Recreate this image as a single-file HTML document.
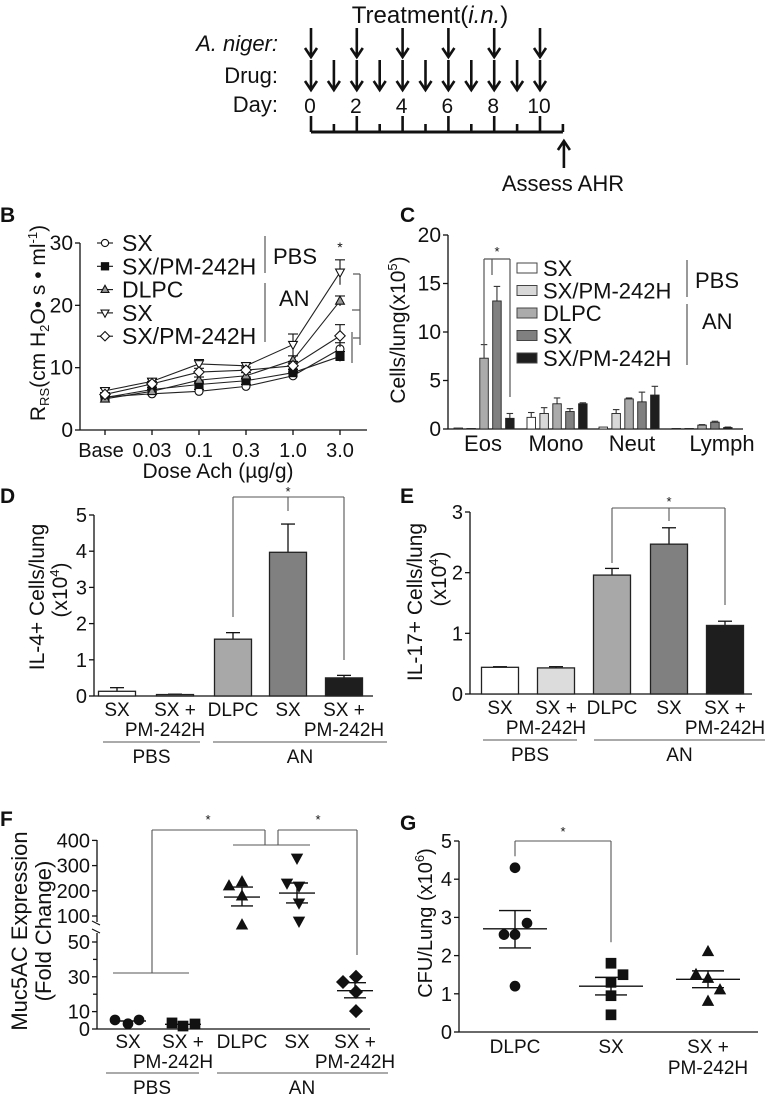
<!DOCTYPE html>
<html><head><meta charset="utf-8"><style>
html,body{margin:0;padding:0;background:#fff}
svg{display:block;font-family:"Liberation Sans",Arial,sans-serif}
text{fill:#111}
</style></head><body>
<svg id="fig" width="774" height="1098" viewBox="0 0 774 1098" xmlns="http://www.w3.org/2000/svg">
<g id="top">
<text x="430" y="23" font-size="24" text-anchor="middle">Treatment(<tspan font-style="italic">i.n.</tspan>)</text>
<text x="278" y="51" font-size="22" text-anchor="end" font-style="italic">A. niger:</text>
<text x="278" y="83" font-size="22" text-anchor="end">Drug:</text>
<text x="278" y="112" font-size="22" text-anchor="end">Day:</text>
<text x="563" y="191" font-size="22" text-anchor="middle">Assess AHR</text>
</g>
<g id="pB">
<text x="0" y="222" font-size="21" font-weight="bold">B</text>
<text transform="translate(45,323) rotate(-90)" font-size="21" text-anchor="middle">R<tspan font-size="13" dy="4">RS</tspan><tspan dy="-4">(cm H</tspan><tspan font-size="13" dy="4">2</tspan><tspan dy="-4">O• s • ml</tspan><tspan font-size="13" dy="-8">-1</tspan><tspan dy="8">)</tspan></text>
<text x="218" y="478" font-size="21" text-anchor="middle">Dose Ach (µg/g)</text>
<text x="273" y="264" font-size="22">PBS</text>
<text x="279" y="306" font-size="22">AN</text>
<text x="340" y="252" font-size="14" text-anchor="middle">*</text>
</g>
<g id="pC">
<text x="400" y="222" font-size="21" font-weight="bold">C</text>
<text transform="translate(405,330) rotate(-90)" font-size="21" text-anchor="middle">Cells/lung(x10<tspan font-size="13" dy="-8">5</tspan><tspan dy="8">)</tspan></text>
<text x="695" y="288" font-size="22">PBS</text>
<text x="702" y="329" font-size="22">AN</text>
<text x="497" y="256" font-size="13" text-anchor="middle">*</text>
</g>
<g id="pD">
<text x="0" y="503" font-size="21" font-weight="bold">D</text>
<text transform="translate(44,597) rotate(-90)" font-size="21" text-anchor="middle">IL-4+ Cells/lung</text>
<text transform="translate(67,590) rotate(-90)" font-size="21" text-anchor="middle">(x10<tspan font-size="13" dy="-8">4</tspan><tspan dy="8">)</tspan></text>
<text x="288" y="496" font-size="13" text-anchor="middle">*</text>
</g>
<g id="pE">
<text x="400" y="503" font-size="21" font-weight="bold">E</text>
<text transform="translate(422,602) rotate(-90)" font-size="21" text-anchor="middle">IL-17+ Cells/lung</text>
<text transform="translate(446,579) rotate(-90)" font-size="21" text-anchor="middle">(x10<tspan font-size="13" dy="-8">4</tspan><tspan dy="8">)</tspan></text>
<text x="669" y="506" font-size="13" text-anchor="middle">*</text>
</g>
<g id="pF">
<text x="0" y="826" font-size="21" font-weight="bold">F</text>
<text transform="translate(27,931) rotate(-90)" font-size="22" text-anchor="middle">Muc5AC Expression</text>
<text transform="translate(51,931) rotate(-90)" font-size="22" text-anchor="middle">(Fold Change)</text>
<text x="208" y="824" font-size="13" text-anchor="middle">*</text>
<text x="318" y="824" font-size="13" text-anchor="middle">*</text>
</g>
<g id="pG">
<text x="400" y="830" font-size="21" font-weight="bold">G</text>
<text transform="translate(432,923) rotate(-90)" font-size="20" text-anchor="middle">CFU/Lung (x10<tspan font-size="13" dy="-8">6</tspan><tspan dy="8">)</tspan></text>
<text x="563" y="836" font-size="13" text-anchor="middle">*</text>
</g>
</svg>
<script>
// ---- data ----
const dayLabels=["0","2","4","6","8","10"];
const nigerDays=[0,2,4,6,8,10];
const drugDays=[0,1,2,3,4,5,6,7,8,9,10];
const bCats=["Base","0.03","0.1","0.3","1.0","3.0"];
const bTicks=[0,10,20,30];
const bSX=[5.3,5.8,6.2,7.0,8.7,13.0];
const bSXPM=[5.2,6.5,7.3,7.9,9.2,11.8];
const bDLPC=[5.0,6.2,8.0,8.7,11.2,20.7];
const bSXAN=[6.3,7.8,10.6,10.3,13.7,25.3];
const bSXPMAN=[5.7,7.4,9.3,9.6,10.3,15.1];
const bErrSX=[0.3,0.3,0.3,0.3,0.6,1.0];
const bErrSXPM=[0.3,0.3,0.4,0.4,0.5,0.8];
const bErrDLPC=[0.3,0.3,0.5,0.5,0.7,0.8];
const bErrSXAN=[0.4,0.4,0.7,0.5,1.7,2.0];
const bErrSXPMAN=[0.3,0.4,0.6,0.5,0.7,1.8];
const bLegend=["SX","SX/PM-242H","DLPC","SX","SX/PM-242H"];
const cCats=["Eos","Mono","Neut","Lymph"];
const cTicks=[0,5,10,15,20];
const cSX=[0.1,1.2,0.2,0.05];
const cSXPM=[0.05,1.6,1.6,0.05];
const cDLPC=[7.3,2.6,3.1,0.4];
const cSXAN=[13.2,1.8,2.8,0.7];
const cSXPMAN=[1.1,2.6,3.5,0.15];
const cErrSX=[0,0.5,0,0];
const cErrSXPM=[0,0.6,0.4,0];
const cErrDLPC=[1.4,0.6,0.1,0.05];
const cErrSXAN=[1.5,0.3,1.0,0.1];
const cErrSXPMAN=[0.5,0.1,0.9,0.05];
const grpCats1=["SX","SX +","DLPC","SX","SX +"];
const grpCats2=["","PM-242H","","","PM-242H"];
const dTicks=[0,1,2,3,4,5];
const dVals=[0.13,0.04,1.57,3.97,0.5];
const dErr=[0.1,0.01,0.18,0.78,0.07];
const eTicks=[0,1,2,3];
const eVals=[0.44,0.43,1.96,2.47,1.13];
const eErr=[0.01,0.02,0.11,0.27,0.07];
const fTicks=[0,10,30,50,100,200,300,400];
const fPts0=[5.2,3.0,5.2];
const fPts1=[3.5,1.7,2.9];
const fPts2=[219,235,179,64];
const fPts3=[330,231,219,152,80];
const fPts4=[27,30,21.3,10.3];
const fMean=[4.6,2.7,175,191,22];
const fSemHi=[4.6,2.7,215,231,26.6];
const fSemLo=[4.6,2.7,140,152,17.9];
const gCats1=["DLPC","SX","SX +"];
const gTicks=[0,1,2,3,4,5];
const gPts0=[4.3,2.55,2.55,2.85,1.2];
const gPts1=[1.8,1.5,1.3,0.95,0.45];
const gPts2=[2.1,1.5,1.4,1.1,0.8];
const gMean=[2.7,1.2,1.38];
const gSemHi=[3.18,1.43,1.6];
const gSemLo=[2.2,0.97,1.16];

// ---- helpers ----
const NS="http://www.w3.org/2000/svg";
function mk(tag,attrs,parent){const e=document.createElementNS(NS,tag);for(const k in attrs)e.setAttribute(k,attrs[k]);(parent||document.getElementById('fig')).appendChild(e);return e;}
function ln(x1,y1,x2,y2,p,w,c){return mk('line',{x1:x1,y1:y1,x2:x2,y2:y2,stroke:c||'#111','stroke-width':w||1.3},p);}
function tx(x,y,s,fs,anchor,p){const t=mk('text',{x:x,y:y,'font-size':fs,'text-anchor':anchor||'middle'},p);t.textContent=s;return t;}
function arrow(x,y1,y2,p,dir){ln(x,y1,x,y2,p,2.6);const tip=y2;const d=dir||1;mk('path',{d:`M${x-6},${tip-9*d} L${x},${tip} L${x+6},${tip-9*d}`,fill:'none',stroke:'#111','stroke-width':2.6},p);}
function marker(shape,x,y,r,fill,p){
 let e;
 if(shape==='circle')e=mk('circle',{cx:x,cy:y,r:r,fill:fill,stroke:'#111','stroke-width':1.1},p);
 else if(shape==='square')e=mk('rect',{x:x-r,y:y-r,width:2*r,height:2*r,fill:fill,stroke:'#111','stroke-width':1.1},p);
 else if(shape==='up')e=mk('path',{d:`M${x},${y-r*1.2} L${x+r*1.1},${y+r*0.8} L${x-r*1.1},${y+r*0.8}Z`,fill:fill,stroke:'#111','stroke-width':1.1},p);
 else if(shape==='down')e=mk('path',{d:`M${x},${y+r*1.2} L${x+r*1.1},${y-r*0.8} L${x-r*1.1},${y-r*0.8}Z`,fill:fill,stroke:'#111','stroke-width':1.1},p);
 else e=mk('path',{d:`M${x},${y-r*1.3} L${x+r*1.3},${y} L${x},${y+r*1.3} L${x-r*1.3},${y}Z`,fill:fill,stroke:'#111','stroke-width':1.1},p);
 return e;
}

// ---- timeline ----
(function(){
 const p=document.getElementById('top');
 const dx=d=>311+d*22.9;
 nigerDays.forEach(d=>{const g=mk('g',{},p);
  
  
  arrow(dx(d),28,57,g);});
 drugDays.forEach(d=>{const g=mk('g',{},p);
  
  
  arrow(dx(d),60,90,g);});
 dayLabels.forEach((s,i)=>{const t=tx(dx(i*2)-1,113,s,21,'middle',p);
  
  });
 const axis=ln(dx(0),132,dx(11),132,p,3);
 
 
 for(let d=0;d<=11;d++){ln(dx(d),d%2?124:116,dx(d),132,p,2.6);}
 const g=mk('g',{},p);
 
 
 ln(dx(11)+1,168,dx(11)+1,142,g,2.6);
 mk('path',{d:`M${dx(11)-5},${150} L${dx(11)+1},${141} L${dx(11)+7},${150}`,fill:'none',stroke:'#111','stroke-width':2.6},g);
})();

// ---- panel B ----
(function(){
 const p=document.getElementById('pB');
 const x=i=>105+i*47, y=v=>430-v*(187/30);
 ln(80,y(30),80,430,p); ln(80,430,367,430,p);
 bTicks.forEach(v=>{ln(75,y(v),80,y(v),p);const t=tx(73,y(v)+7,String(v),21,'end',p);
  
  });
 bCats.forEach((s,i)=>{ln(x(i),430,x(i),435,p);const t=tx(x(i)-(i===0?4:0),457,s,20,'middle',p);
  
  });
 const series=[[bSX,bErrSX,'circle','#fff'],[bSXPM,bErrSXPM,'square','#111'],[bDLPC,bErrDLPC,'up','#999'],[bSXAN,bErrSXAN,'down','#fff'],[bSXPMAN,bErrSXPMAN,'diamond','#fff']];
 series.forEach((s,k)=>{
  const g=mk('g',{},p);
  
  
  mk('polyline',{points:s[0].map((v,i)=>x(i)+','+y(v)).join(' '),fill:'none',stroke:'#222','stroke-width':1.1},g);
  s[0].forEach((v,i)=>{ln(x(i),y(v+s[1][i]),x(i),y(v-s[1][i]),g,1.1);ln(x(i)-5,y(v+s[1][i]),x(i)+5,y(v+s[1][i]),g,1.1);});
  s[0].forEach((v,i)=>{const m=marker(s[2],x(i),y(v),4,s[3],g);
   
   });
  const ly=243+k*23.3;
  ln(97,ly,113,ly,g,1.1); marker(s[2],105,ly,3.6,s[3],g);
  const t=tx(122,ly+8,bLegend[k],23,'start',g);
  
  
 });
 ln(265,236,265,273,p,1.2,'#555'); ln(265,283,265,342,p,1.2,'#555');
 ln(360,274,360,345,p,1.2,'#555'); ln(353,274,360,274,p,1.2,'#555'); ln(353,338,360,338,p,1.2,'#555'); ln(352,310,360,310,p,1.2,'#555');
 ln(352,332,352,363,p,1.2,'#555');
})();

// ---- panel C ----
(function(){
 const p=document.getElementById('pC');
 const y=v=>429-v*9.7, gx=[454,527,599,672], step=12.9, bw=8.5;
 ln(448,y(20),448,429,p); ln(448,429,743,429,p);
 cTicks.forEach(v=>{ln(443,y(v),448,y(v),p);const t=tx(441,y(v)+7,String(v),21,'end',p);
  
  });
 const cols=['#fff','#d8d8d8','#ababab','#808080','#1e1e1e'];
 const ser=[[cSX,cErrSX],[cSXPM,cErrSXPM],[cDLPC,cErrDLPC],[cSXAN,cErrSXAN],[cSXPMAN,cErrSXPMAN]];
 cCats.forEach((c,gi)=>{
  const t=tx([483,556,632,722][gi],451,c,22,'middle',p);
  
  
  ser.forEach((s,k)=>{const v=s[0][gi],e=s[1][gi],x0=gx[gi]+k*step;
   if(e>0){ln(x0+bw/2,y(v),x0+bw/2,y(v+e),p,1.1,'#333');ln(x0+1,y(v+e),x0+bw-1,y(v+e),p,1.1,'#333');}
   const r=mk('rect',{x:x0,y:y(v),width:bw,height:429-y(v),fill:cols[k],stroke:'#222','stroke-width':0.9},p);
   
   });
 });
 bLegend.forEach((s,k)=>{const ly=268+k*22.5;
  const r=mk('rect',{x:517,y:ly-5,width:20,height:10,fill:cols[k],stroke:'#444','stroke-width':1},p);
  
  
  const t=tx(543,ly+8,s,22,'start',p);
  
  });
 ln(687,260,687,297,p,1.2,'#555'); ln(687,304,687,365,p,1.2,'#555');
 ln(484,259,484,347,p,1.2,'#555'); ln(484,259,510,259,p,1.2,'#555'); ln(510,259,510,397,p,1.2,'#555'); ln(492,259,492,275,p,1.2,'#555');
})();

// ---- bar panels D,E ----
function barPanel(pid,ax,y0,top,maxV,ticks,vals,errs,centers,xEnd,pre,grp,br){
 const p=document.getElementById(pid);
 const y=v=>y0-v*(y0-top)/maxV, bw=37;
 ln(ax,top,ax,y0,p); ln(ax,y0,xEnd,y0,p);
 ticks.forEach(v=>{ln(ax-5,y(v),ax,y(v),p);const t=tx(ax-7,y(v)+7,String(v),20,'end',p);
  
  });
 const cols=['#fff','#dcdcdc','#a8a8a8','#808080','#1e1e1e'];
 vals.forEach((v,i)=>{const c=centers[i];
  ln(c,y(v),c,y(v+errs[i]),p,1.3);ln(c-7,y(v+errs[i]),c+7,y(v+errs[i]),p,1.3);
  const r=mk('rect',{x:c-bw/2,y:y(v),width:bw,height:y0-y(v),fill:cols[i],stroke:'#222','stroke-width':1.3},p);
  
  
  const t=tx(c,y0+20,grpCats1[i],19,'middle',p);
  
  
  if(grpCats2[i]){const t2=tx(c-(i===1?10:0),y0+40,grpCats2[i],19,'middle',p);
   
   }
 });
 ln(grp[0],y0+46,grp[1],y0+46,p,1.3,'#777'); ln(grp[2],y0+46,grp[3],y0+46,p,1.3,'#777');
 tx((grp[0]+grp[1])/2,y0+67,'PBS',19,'middle',p); tx((grp[2]+grp[3])/2,y0+67,'AN',19,'middle',p);
 ln(centers[2],br[0],centers[4],br[0],p,1.1,'#555'); ln(centers[2],br[0],centers[2],br[1],p,1.1,'#555');
 ln(centers[4],br[0],centers[4],br[2],p,1.1,'#555'); ln(centers[3],br[0],centers[3],br[3],p,1.1,'#555');
}
barPanel('pD',94,696,515,5,dTicks,dVals,dErr,[117,175,233,288,344],373,'d',[103,200,213,387],[497,617,660,511]);
barPanel('pE',470,694,512,3,eTicks,eVals,eErr,[500,556,612,669,725],752,'e',[483,577,594,765],[508,563,605,521]);

// ---- panel F ----
(function(){
 const p=document.getElementById('pF');
 const y=v=>v<55?1029-v*1.74:916-(v-100)*0.252, cx=[128,183,242,297,355];
 ln(97,840,97,922,p); ln(97,933,97,1029,p); ln(97,1029,370,1029,p);
 ln(92,921,100,925,p,1.1); ln(92,929,100,933,p,1.1);
 fTicks.forEach(v=>{ln(92,y(v),97,y(v),p);const t=tx(90,y(v)+7,String(v),20,'end',p);
  
  });
 [20,40].forEach(v=>ln(93,y(v),97,y(v),p));
 const pts=[[fPts0,'circle'],[fPts1,'square'],[fPts2,'up'],[fPts3,'down'],[fPts4,'diamond']];
 const off=[[-13,0,11],[-11,0,12],[-13,0,0,0],[0,-10,2,2,2],[-12,1,1,1]];
 pts.forEach((s,i)=>{
  ln(cx[i]-18,y(fMean[i]),cx[i]+18,y(fMean[i]),p,1.4);
  if(fSemHi[i]!==fMean[i]){ln(cx[i],y(fSemHi[i]),cx[i],y(fSemLo[i]),p,1.4);ln(cx[i]-11,y(fSemHi[i]),cx[i]+11,y(fSemHi[i]),p,1.4);ln(cx[i]-11,y(fSemLo[i]),cx[i]+11,y(fSemLo[i]),p,1.4);}
  s[0].forEach((v,j)=>{const m=marker(s[1],cx[i]+off[i][j],y(v),4.8,'#111',p);
   
   });
  const t=tx(cx[i],1048,grpCats1[i],19,'middle',p);
  
  
  if(grpCats2[i])tx(cx[i]-(i===1?10:0),1068,grpCats2[i],19,'middle',p);
 });
 ln(106,1073,199,1073,p,1.3,'#777'); ln(217,1073,388,1073,p,1.3,'#777');
 tx(152,1094,'PBS',19,'middle',p); tx(302,1094,'AN',19,'middle',p);
 const c='#555';
 ln(113,973,189,973,p,1.1,c); ln(152,973,152,830,p,1.1,c); ln(152,830,265,830,p,1.1,c); ln(265,830,265,845,p,1.1,c);
 ln(233,845,310,845,p,1.1,c); ln(278,845,278,830,p,1.1,c); ln(278,830,357,830,p,1.1,c); ln(357,830,357,955,p,1.1,c);
})();

// ---- panel G ----
(function(){
 const p=document.getElementById('pG');
 const y=v=>1032-v*38.2, cx=[515,611,708];
 ln(459,y(5),459,1032,p); ln(459,1032,758,1032,p);
 gTicks.forEach(v=>{ln(454,y(v),459,y(v),p);const t=tx(452,y(v)+7,String(v),20,'end',p);
  
  });
 const pts=[[gPts0,'circle'],[gPts1,'square'],[gPts2,'up']];
 const off=[[0,-11,0,12,0],[0,12,0,0,0],[0,-12,0,12,0]];
 pts.forEach((s,i)=>{
  ln(cx[i]-32,y(gMean[i]),cx[i]+32,y(gMean[i]),p,1.4);
  ln(cx[i],y(gSemHi[i]),cx[i],y(gSemLo[i]),p,1.4);
  ln(cx[i]-16,y(gSemHi[i]),cx[i]+16,y(gSemHi[i]),p,1.4);ln(cx[i]-16,y(gSemLo[i]),cx[i]+16,y(gSemLo[i]),p,1.4);
  s[0].forEach((v,j)=>{const m=marker(s[1],cx[i]+off[i][j],y(v),4.8,'#111',p);
   
   });
  const t=tx(cx[i],1053,gCats1[i],19,'middle',p);
  
  
 });
 tx(cx[2],1074,'PM-242H',19,'middle',p);
 const c='#555';
 ln(cx[0],y(5),cx[1],y(5),p,1.1,c); ln(cx[0],y(5),cx[0],y(4.6),p,1.1,c); ln(cx[1],y(5),cx[1],y(2.35),p,1.1,c);
})();
</script>
</body></html>
